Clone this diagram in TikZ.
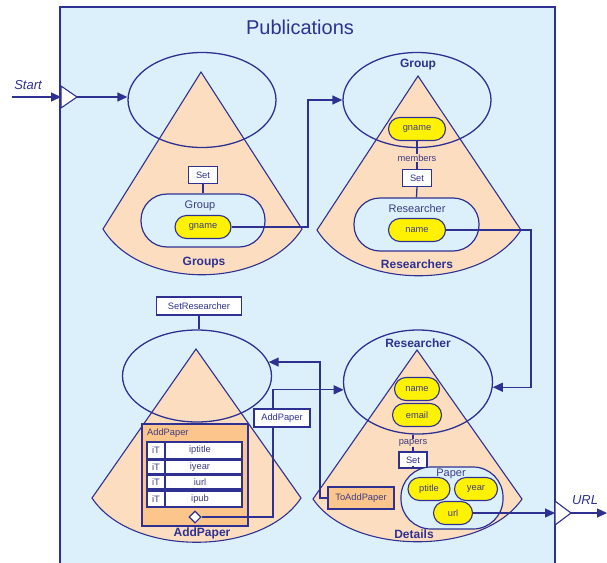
\documentclass[tikz,border=0pt]{standalone}
\usepackage{fontspec}
\setmainfont{Liberation Sans}
\usetikzlibrary{shapes.geometric,arrows.meta}

\definecolor{navy}{RGB}{46,49,146}
\definecolor{panelbg}{RGB}{220,240,251}
\definecolor{peach}{RGB}{253,221,191}
\definecolor{pillyellow}{RGB}{255,242,0}
\definecolor{boxorange}{RGB}{251,197,140}
\definecolor{inktext}{RGB}{60,60,130}

\tikzset{
  small/.style={font=\fontsize{9.3}{10}\selectfont},
  conn/.style={draw=navy, line width=1.3pt},
  arr/.style={conn, -{Triangle[length=10pt,width=9pt]}},
  cone/.style={fill=peach, draw=navy, line width=1.1pt},
  frame/.style={ellipse, draw=navy, line width=1.3pt, inner sep=0pt},
  rbox/.style={draw=navy, fill=panelbg, line width=1.2pt, inner sep=0pt},
  pill/.style={draw=navy, fill=pillyellow, line width=1.1pt, rounded corners=11.5pt,
    minimum height=23pt, inner sep=0pt, small, text=inktext},
  setbox/.style={draw=navy, fill=white, line width=1.1pt, inner sep=0pt,
    minimum height=17pt, small, text=navy},
  orangebox/.style={draw=navy, fill=boxorange, line width=1.1pt, inner sep=0pt},
  rowbox/.style={draw=navy, fill=white, line width=1.2pt},
  cellt/.style={small, text=inktext, inner sep=0pt},
  conetitle/.style={font=\fontsize{12}{14}\selectfont\bfseries, text=navy, inner sep=0pt},
  midlbl/.style={font=\fontsize{11}{13}\selectfont, text=inktext, inner sep=0pt},
  onpeach/.style={small, text=inktext, fill=peach, inner sep=1pt},
  portlbl/.style={font=\fontsize{13}{15}\selectfont\itshape, text=navy, inner sep=0pt},
  port/.style={draw=navy, fill=white, line width=1.1pt, line join=miter}
}

\begin{document}
\begin{tikzpicture}[x=1pt, y=-1pt]
\useasboundingbox (0,0) rectangle (607,562);

% panel
\path[fill=panelbg, draw=navy, line width=1.3pt] (60,7) rectangle (555,566);
\node[font=\fontsize{20}{24}\selectfont, text=navy] (title) at (300,27) {Publications};

% ---------- Groups ----------
\path[cone] (201,72) -- (103,229) .. controls (140,290) and (263,290) .. (302,229) -- cycle;
\node[frame, minimum width=148pt, minimum height=95pt] (e1) at (202,100) {};
\node[rbox, rounded corners=26pt, minimum width=124pt, minimum height=53pt] (grp1) at (203,220.5) {};
\node[midlbl] (grp1lbl) at (200,206) {Group};
\node[pill, minimum width=56pt] (gn1) at (203,227) {gname};
\node[setbox, minimum width=29pt] (set1) at (203,175) {Set};
\draw[conn] (set1.south) -- (grp1.north);
\node[conetitle] (groups) at (204,263) {Groups};

% ---------- Researchers ----------
\path[cone] (418,76) -- (317,230) .. controls (355,291) and (482,291) .. (521,230) -- cycle;
\node[frame, minimum width=148pt, minimum height=95pt] (e2) at (417,100) {};
\node[conetitle] (e2lbl) at (418,65) {Group};
\node[pill, minimum width=57pt] (gn2) at (417,129) {gname};
\node[setbox, minimum width=29pt] (set2) at (417,178) {Set};
\draw[conn] (gn2.south) -- (set2.north);
\node[onpeach] (members) at (417,158) {members};
\node[rbox, rounded corners=26pt, minimum width=125pt, minimum height=53pt] (rb2) at (416.5,224.5) {};
\draw[conn] (set2.south) -- (rb2.north);
\node[midlbl] (rb2lbl) at (417,209) {Researcher};
\node[pill, minimum width=57pt] (nm2) at (417,230) {name};
\node[conetitle] (researchers) at (417,264) {Researchers};

% ---------- AddPaper ----------
\path[cone] (196,349) -- (92,498) .. controls (131,557) and (262,557) .. (301,498) -- cycle;
\node[frame, minimum width=149pt, minimum height=92pt] (e3) at (197,376) {};
\node[setbox, minimum width=85pt, minimum height=18pt] (setr) at (199,306) {SetResearcher};
\draw[conn] (setr.south) -- (setr.south |- e3.north);
\node[orangebox, minimum width=106pt, minimum height=102pt] (apbox) at (195,475) {};
\node[small, text=inktext, anchor=west, inner sep=0pt] (aplbl) at (147,433) {AddPaper};
\foreach \top/\bot/\val [count=\i] in {442/459/iptitle, 460/474/iyear, 475/489/iurl, 491/507/ipub} {
  \path[rowbox] (147,\top) rectangle (242,\bot);
  \draw[navy, line width=1.2pt] (165,\top) -- (165,\bot);
  \node[cellt] (it\i) at (156,{(\top+\bot)/2}) {iT};
  \node[cellt] (iv\i) at (200,{(\top+\bot)/2}) {\val};
}
\node[diamond, draw=navy, fill=white, line width=1.1pt, minimum size=12pt, inner sep=0pt] (dm) at (195,517) {};
\node[conetitle] (addpaper) at (202,533) {AddPaper};

% ---------- Details ----------
\path[cone] (417,350) -- (313,499) .. controls (352,556) and (483,556) .. (522,499) -- cycle;
\node[frame, minimum width=149pt, minimum height=104pt] (e4) at (418,382) {};
\node[conetitle] (e4lbl) at (418,343) {Researcher};
\node[pill, minimum width=45pt] (nm4) at (417,389) {name};
\node[pill, minimum width=49pt] (em4) at (417,415) {email};
\node[setbox, minimum width=28pt, minimum height=16pt] (set3) at (413,460) {Set};
\draw[conn] (set3.north) -- (set3.north |- e4.south);
\node[onpeach] (papers) at (413,443) {papers};
\node[rbox, rounded corners=30pt, minimum width=102pt, minimum height=62pt] (pbox) at (452,498) {};
\draw[conn] (set3.south) -- (set3.south |- pbox.north);
\node[midlbl] (pboxlbl) at (451,474) {Paper};
\node[pill, minimum width=42pt] (pt) at (429,489) {ptitle};
\node[pill, minimum width=43pt] (yr) at (476,489) {year};
\node[pill, minimum width=39pt] (url) at (453,513) {url};
\node[orangebox, minimum width=66pt, minimum height=22pt, small, text=inktext] (toadd) at (361,498) {ToAddPaper};
\node[conetitle] (details) at (414,534) {Details};

% ---------- ports ----------
\path[port] (61,86) -- (77,97) -- (61,108) -- cycle;
\coordinate (sin) at (61,97);
\coordinate (sout) at (77,97);
\coordinate (sfree) at (12,97);
\node[portlbl] (startlbl) at (28,85) {Start};

\path[port] (555,501) -- (571,513) -- (555,525) -- cycle;
\coordinate (uin) at (555,513);
\coordinate (uout) at (571,513);
\coordinate (ufree) at (607,513);
\node[portlbl] (urllbl) at (585,500) {URL};

% ---------- connectors ----------
\draw[arr] (sfree) -- (sin);
\draw[arr] (sout) -- (sout -| e1.west);
\draw[arr] (gn1.east) -- (308,227) |- (e2.west);
\draw[arr] (nm2.east) -- (531,230) |- (e4.-4);
\draw[arr] (toadd.west) -- (320,498) |- (e3.11);
\draw[arr] (dm.east) -- (273,517) |- (e4.186);
\node[setbox, minimum width=56pt, minimum height=18pt] (aplink) at (282,418) {AddPaper};
\draw[arr] (url.east) -- (uin);
\draw[arr] (uout) -- (ufree);
\end{tikzpicture}
\end{document}
